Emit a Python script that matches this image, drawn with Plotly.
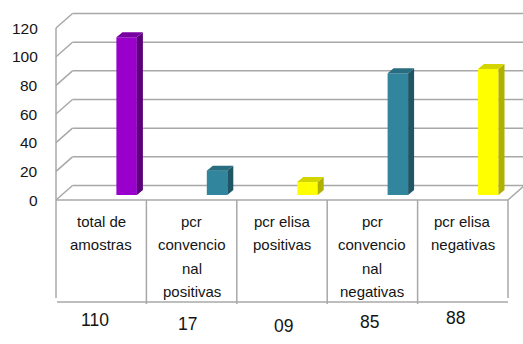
import plotly.graph_objects as go

# ---- data ----
categories = ["total de<br>amostras", "pcr<br>convencio<br>nal<br>positivas", "pcr elisa<br>positivas",
              "pcr<br>convencio<br>nal<br>negativas", "pcr elisa<br>negativas"]
values = [110, 17, 9, 85, 88]
value_labels = ["110", "17", "09", "85", "88"]
y_ticks = [0, 20, 40, 60, 80, 100, 120]
front_colors = ["#9900cc", "#31859c", "#ffff00", "#31859c", "#ffff00"]
side_colors = ["#5a0078", "#1f5565", "#b0b000", "#1f5565", "#b0b000"]
top_colors = ["#7800a0", "#286d80", "#d4d400", "#286d80", "#d4d400"]

# ---- pixel geometry helpers (style) ----
W, H = 523, 344
CW = 90.4      # category width px
X0 = 100.2     # centre of first column px
PY = 1.433     # px per unit
Y0 = 200.0     # px of value 0 on front plane

def px2x(px):
    return (px - X0) / CW

def py2v(py):
    return (Y0 - py) / PY

DX_BACK = 16.5 / CW
DV_BACK = 14.5 / PY
FRONT_LEFT = px2x(56)
FRONT_RIGHT = px2x(508)
BACK_LEFT = FRONT_LEFT + DX_BACK
BAR_OFF = 16.2 / CW
BAR_W = 20.5 / CW
SIDE_DX = 6.0 / CW
SIDE_DV = 5.0 / PY
BASE = 5.0 / PY
GRID = "#a8a8a8"
TXT = "#141414"
FONT = "Liberation Sans"

fig = go.Figure()
shapes = []

def line(x0, y0, x1, y1, layer="below"):
    shapes.append(dict(type="line", xref="x", yref="y", x0=x0, y0=y0, x1=x1, y1=y1,
                       line=dict(color=GRID, width=1.5), layer=layer))

# walls / gridlines
for t in y_ticks:
    line(BACK_LEFT, t + DV_BACK, px2x(W + 20), t + DV_BACK)
    line(FRONT_LEFT, t, BACK_LEFT, t + DV_BACK)
line(FRONT_LEFT, 0, FRONT_LEFT, max(y_ticks))
line(FRONT_LEFT, 0, FRONT_RIGHT, 0)
line(FRONT_RIGHT, 0, FRONT_RIGHT + DX_BACK, DV_BACK)

# table
table_bottom = py2v(302)
for i in range(len(categories) + 1):
    xb = FRONT_LEFT + (FRONT_RIGHT - FRONT_LEFT) * i / len(categories)
    line(xb, 0, xb, py2v(304) if 0 < i < len(categories) else py2v(298))
line(px2x(57), table_bottom, FRONT_RIGHT, table_bottom)

# bars
n = len(values)
xs_front = [i + BAR_OFF + BAR_W / 2 for i in range(n)]
fig.add_trace(go.Bar(x=xs_front, y=values, base=[BASE] * n, width=[BAR_W] * n,
                     marker=dict(color=front_colors, line=dict(width=0)),
                     hoverinfo="skip", showlegend=False))
for i, v in enumerate(values):
    xl = i + BAR_OFF
    xr = xl + BAR_W
    top = BASE + v
    # side face
    fig.add_trace(go.Scatter(x=[xr, xr + SIDE_DX, xr + SIDE_DX, xr, xr],
                             y=[BASE, BASE + SIDE_DV, top + SIDE_DV, top, BASE],
                             fill="toself", fillcolor=side_colors[i], mode="lines",
                             line=dict(width=0, color=side_colors[i]),
                             hoverinfo="skip", showlegend=False))
    # top face
    fig.add_trace(go.Scatter(x=[xl, xr, xr + SIDE_DX, xl + SIDE_DX, xl],
                             y=[top, top, top + SIDE_DV, top + SIDE_DV, top],
                             fill="toself", fillcolor=top_colors[i], mode="lines",
                             line=dict(width=0, color=top_colors[i]),
                             hoverinfo="skip", showlegend=False))

annotations = []
# y tick labels
for t in y_ticks:
    annotations.append(dict(x=px2x(40), y=t, xref="x", yref="y", text=str(t),
                            showarrow=False, xanchor="right", yanchor="middle",
                            font=dict(family=FONT, size=15.5, color=TXT)))
# category labels (one annotation per line)
line_y = [221, 244.5, 268, 291.5]
for i, lab in enumerate(categories):
    xc = FRONT_LEFT + (FRONT_RIGHT - FRONT_LEFT) * (i + 0.5) / n
    for j, part in enumerate(lab.split("<br>")):
        annotations.append(dict(x=xc, y=py2v(line_y[j]), xref="x", yref="y", text=part,
                                showarrow=False, xanchor="center", yanchor="middle",
                                font=dict(family=FONT, size=15, color=TXT)))
# value row (hand-placed text in the reference)
val_dx = [-6, -4, 1, -3, -7]
val_py = [320, 324, 326, 322, 318]
for i, lab in enumerate(value_labels):
    xc = FRONT_LEFT + (FRONT_RIGHT - FRONT_LEFT) * (i + 0.5) / n + val_dx[i] / CW
    annotations.append(dict(x=xc, y=py2v(val_py[i]), xref="x", yref="y", text=lab,
                            showarrow=False, xanchor="center", yanchor="middle",
                            font=dict(family=FONT, size=17.5, color=TXT)))

fig.update_layout(
    width=W, height=H, margin=dict(l=0, r=0, t=0, b=0),
    paper_bgcolor="white", plot_bgcolor="white",
    barmode="overlay", showlegend=False,
    xaxis=dict(range=[px2x(0), px2x(W)], visible=False, fixedrange=True),
    yaxis=dict(range=[py2v(H), py2v(0)], visible=False, fixedrange=True),
    shapes=shapes, annotations=annotations,
)
fig.write_html("out.html", config={"displayModeBar": False})
